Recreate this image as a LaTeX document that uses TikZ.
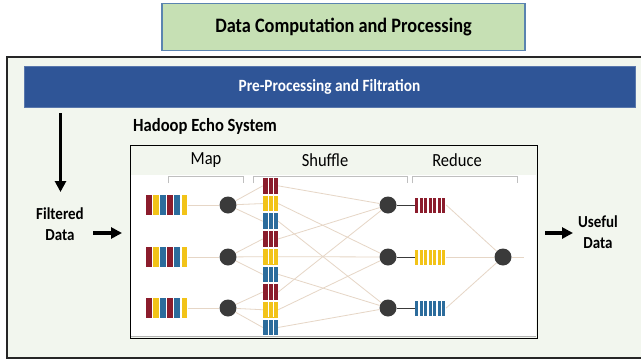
\documentclass[tikz,border=0pt]{standalone}
\usepackage{fontspec}
\setmainfont{Carlito}
\usetikzlibrary{arrows.meta}
\definecolor{titlegreen}{HTML}{C6E0B4}
\definecolor{titleborder}{HTML}{5A84B0}
\definecolor{panelbg}{HTML}{F2F6EE}
\definecolor{bannerblue}{HTML}{2F5597}
\definecolor{barred}{HTML}{8B1C2C}
\definecolor{baryellow}{HTML}{F2C318}
\definecolor{barblue}{HTML}{2C6C9C}
\definecolor{linktan}{HTML}{E6D6C6}
\definecolor{dotgray}{HTML}{3A3A3A}
\newcommand\tallt[1]{\scalebox{1}[1.12]{#1}}
\tikzset{
  titlebox/.style={draw=titleborder, fill=titlegreen, line width=1.2pt},
  dot/.style={circle, fill=dotgray, minimum size=17pt, inner sep=0pt},
  link/.style={draw=linktan, line width=0.8pt},
  bigarrow/.style={-{Triangle[length=11pt,width=11pt]}, line width=3.2pt},
  lbl/.style={font=\fontsize{15}{21}\selectfont\bfseries, align=center},
  hdr/.style={font=\fontsize{16.5}{18}\selectfont},
  grp/.style={inner sep=0pt, minimum width=#1, minimum height=20pt},
  sblock/.style={inner sep=0pt, minimum width=15pt, minimum height=15.7pt},
  brk/.style={black!25, line width=0.6pt},
}
\begin{document}
\begin{tikzpicture}[x=1pt,y=-1pt]
\useasboundingbox (0,0) rectangle (641,362);
% title
\node[titlebox, minimum width=363pt, minimum height=47pt, font=\fontsize{18.3}{20}\selectfont\bfseries] (title) at (343.5,27) {\tallt{Data Computation and Processing}};
% outer panel
\draw[fill=panelbg, draw=black!85, line width=1.5pt] (7,57) rectangle (650,358);
\node[fill=bannerblue, draw=bannerblue!80!white, line width=0.8pt, minimum width=611pt, minimum height=41pt, inner sep=0pt, text=white, font=\fontsize{15.3}{17}\selectfont\bfseries] (banner) at (329.5,86.5) {\tallt{Pre-Processing and Filtration}};
% filtered data
\node[lbl] (filt) at (60,224) {\tallt{Filtered}\\\tallt{Data}};
\coordinate (dtop) at (60.5,113);
\coordinate (dbot) at (60.5,192);
\draw[bigarrow] (dtop) -- (dbot);
\node[font=\fontsize{16.6}{18}\selectfont\bfseries, anchor=west, inner sep=0pt] (hadoop) at (133,126) {\tallt{Hadoop Echo System}};
% inner box
\draw[fill=panelbg, draw=black, line width=1pt] (130,145) rectangle (537,338);
\fill[white] (131,175) rectangle (536,337);
\draw[black!30, line width=0.6pt] (131,336.5) -- (536,336.5);
\node[hdr] (lmap) at (206,160) {\tallt{Map}};
\node[hdr] (lshuf) at (325,160) {\tallt{Shuffle}};
\node[hdr] (lred) at (457,160) {\tallt{Reduce}};
% brackets
\draw[brk] (168,183) -- (168,176) -- (243,176) -- (243,183);
\draw[brk] (253,183) -- (253,176) -- (407,176) -- (407,183);
\draw[brk] (412,183) -- (412,176) -- (517,176) -- (517,183);
% side labels and arrows
\node[lbl] (useful) at (598,232) {\tallt{Useful}\\\tallt{Data}};
\coordinate (inA) at (93,233);
\coordinate (inB) at (122,233);
\draw[bigarrow] (inA) -- (inB);
\coordinate (outA) at (545,233);
\coordinate (outB) at (573,233);
\draw[bigarrow] (outA) -- (outB);
% map groups, mappers, reducers
\foreach \i/\y in {1/205,2/257,3/308}{
  \node[grp=41pt] (mb\i) at (167,\y) {};
  \foreach \k/\c in {0/barred,1/baryellow,2/barblue,3/barred,4/barblue,5/baryellow}{
    \fill[\c] ({146+\k*7.1},{\y-10}) rectangle ({146+\k*7.1+5.6},{\y+10});
  }
  \node[dot] (mc\i) at (228,\y) {};
  \node[dot] (rc\i) at (388,\y) {};
}
% shuffle blocks
\foreach \j/\c in {1/barred,2/baryellow,3/barblue,4/barred,5/baryellow,6/barblue,7/barred,8/baryellow,9/barblue}{
  \node[sblock, fill=\c] (sb\j) at (270.5,{177+(\j-0.5)*17.7}) {};
  \draw[white, line width=0.8pt] (sb\j.north) ++(-2.5,0) -- ++(0,15.7);
  \draw[white, line width=0.8pt] (sb\j.north) ++(2.5,0) -- ++(0,15.7);
}
% reduce bars
\foreach \i/\y/\c in {1/205/barred,2/257/baryellow,3/308/barblue}{
  \node[inner sep=0pt, minimum width=31pt, minimum height=15pt] (rb\i) at (430.5,\y) {};
  \foreach \k in {0,...,6}{
    \fill[\c] ({415+\k*4.5},{\y-7.5}) rectangle ({415+\k*4.5+3.3},{\y+7.5});
  }
}
\node[dot] (fin) at (503,257) {};
\coordinate (finout) at (524,257);
% links
\foreach \i in {1,2,3}{
  \draw[link] (mb\i) -- (mc\i);
  \draw[dotgray, line width=1pt] (rc\i) -- (rb\i.west);
  \draw[link] (rb\i.east) -- (fin);
}
\foreach \j/\m in {1/1,2/1,3/1,4/2,5/2,6/2,7/3,8/3,9/3}{
  \draw[link] (mc\m) -- (sb\j.west);
}
\foreach \j/\r in {1/1,2/2,3/3,4/1,5/2,6/3,7/1,8/2,9/3}{
  \draw[link] (sb\j.east) -- (rc\r);
}
\draw[link] (fin) -- (finout);
\end{tikzpicture}
\end{document}
